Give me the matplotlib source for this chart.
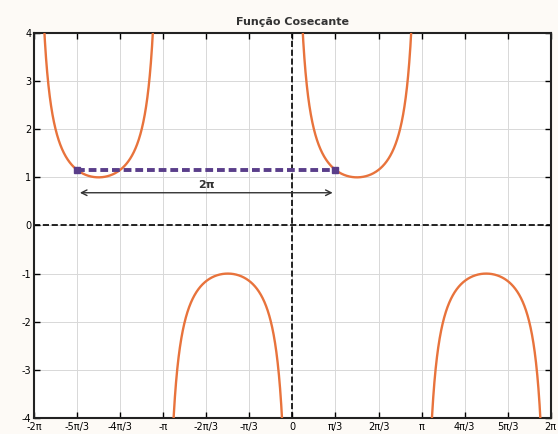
import numpy as np
import matplotlib.pyplot as plt

plt.rcParams["axes.unicode_minus"] = False

# Data
branches = [(-2 * np.pi, -np.pi), (-np.pi, 0), (0, np.pi), (np.pi, 2 * np.pi)]
tick_vals = [k * np.pi / 3 for k in range(-6, 7)]
tick_labels = ["-2π", "-5π/3", "-4π/3", "-π", "-2π/3", "-π/3", "0",
               "π/3", "2π/3", "π", "4π/3", "5π/3", "2π"]
y_ticks = [-4, -3, -2, -1, 0, 1, 2, 3, 4]
period_start = -5 * np.pi / 3
period_end = np.pi / 3
period_level = 1 / np.sin(np.pi / 3)
arrow_level = 0.68

fig = plt.figure(figsize=(5.58, 4.34), dpi=100, facecolor="#fdfaf6")
ax = fig.add_axes([0.061, 0.037, 0.926, 0.887])

for a, b in branches:
    x = np.linspace(a + 1e-3, b - 1e-3, 800)
    y = 1 / np.sin(x)
    ax.plot(x, y, color="#e8733c", linewidth=1.7, zorder=3)

ax.axhline(0, color="black", linestyle="--", linewidth=1.2, zorder=2)
ax.axvline(0, color="black", linestyle="--", linewidth=1.2, zorder=2)

ax.plot([period_start, period_end], [period_level, period_level], "--",
        color="#5a3e8a", linewidth=2.8, dashes=(2, 1), zorder=4)
ax.plot([period_start, period_end], [period_level, period_level], "s",
        color="#5a3e8a", markersize=4, zorder=4)
ax.annotate("", xy=(period_start, arrow_level), xytext=(period_end, arrow_level),
            arrowprops=dict(arrowstyle="<->", color="#333333", lw=1.0))
ax.text((period_start + period_end) / 2, arrow_level + 0.06, "2π",
        ha="center", va="bottom", fontsize=8, fontweight="bold", color="#333333")

ax.set_xlim(-2 * np.pi, 2 * np.pi)
ax.set_ylim(-4, 4)
ax.set_xticks(tick_vals)
ax.set_xticklabels(tick_labels)
ax.set_yticks(y_ticks)
ax.tick_params(direction="in", top=True, right=True, labelsize=7, pad=2,
               length=4, width=1)
ax.tick_params(axis="x", pad=3)
ax.grid(True, color="#d8d8d8", linewidth=0.7)
for s in ax.spines.values():
    s.set_linewidth(1.5)
    s.set_color("#222222")

ax.set_title("Função Cosecante", fontsize=8, fontweight="bold", color="#333333", pad=6)

fig.savefig("out.png", dpi=100, facecolor=fig.get_facecolor())
